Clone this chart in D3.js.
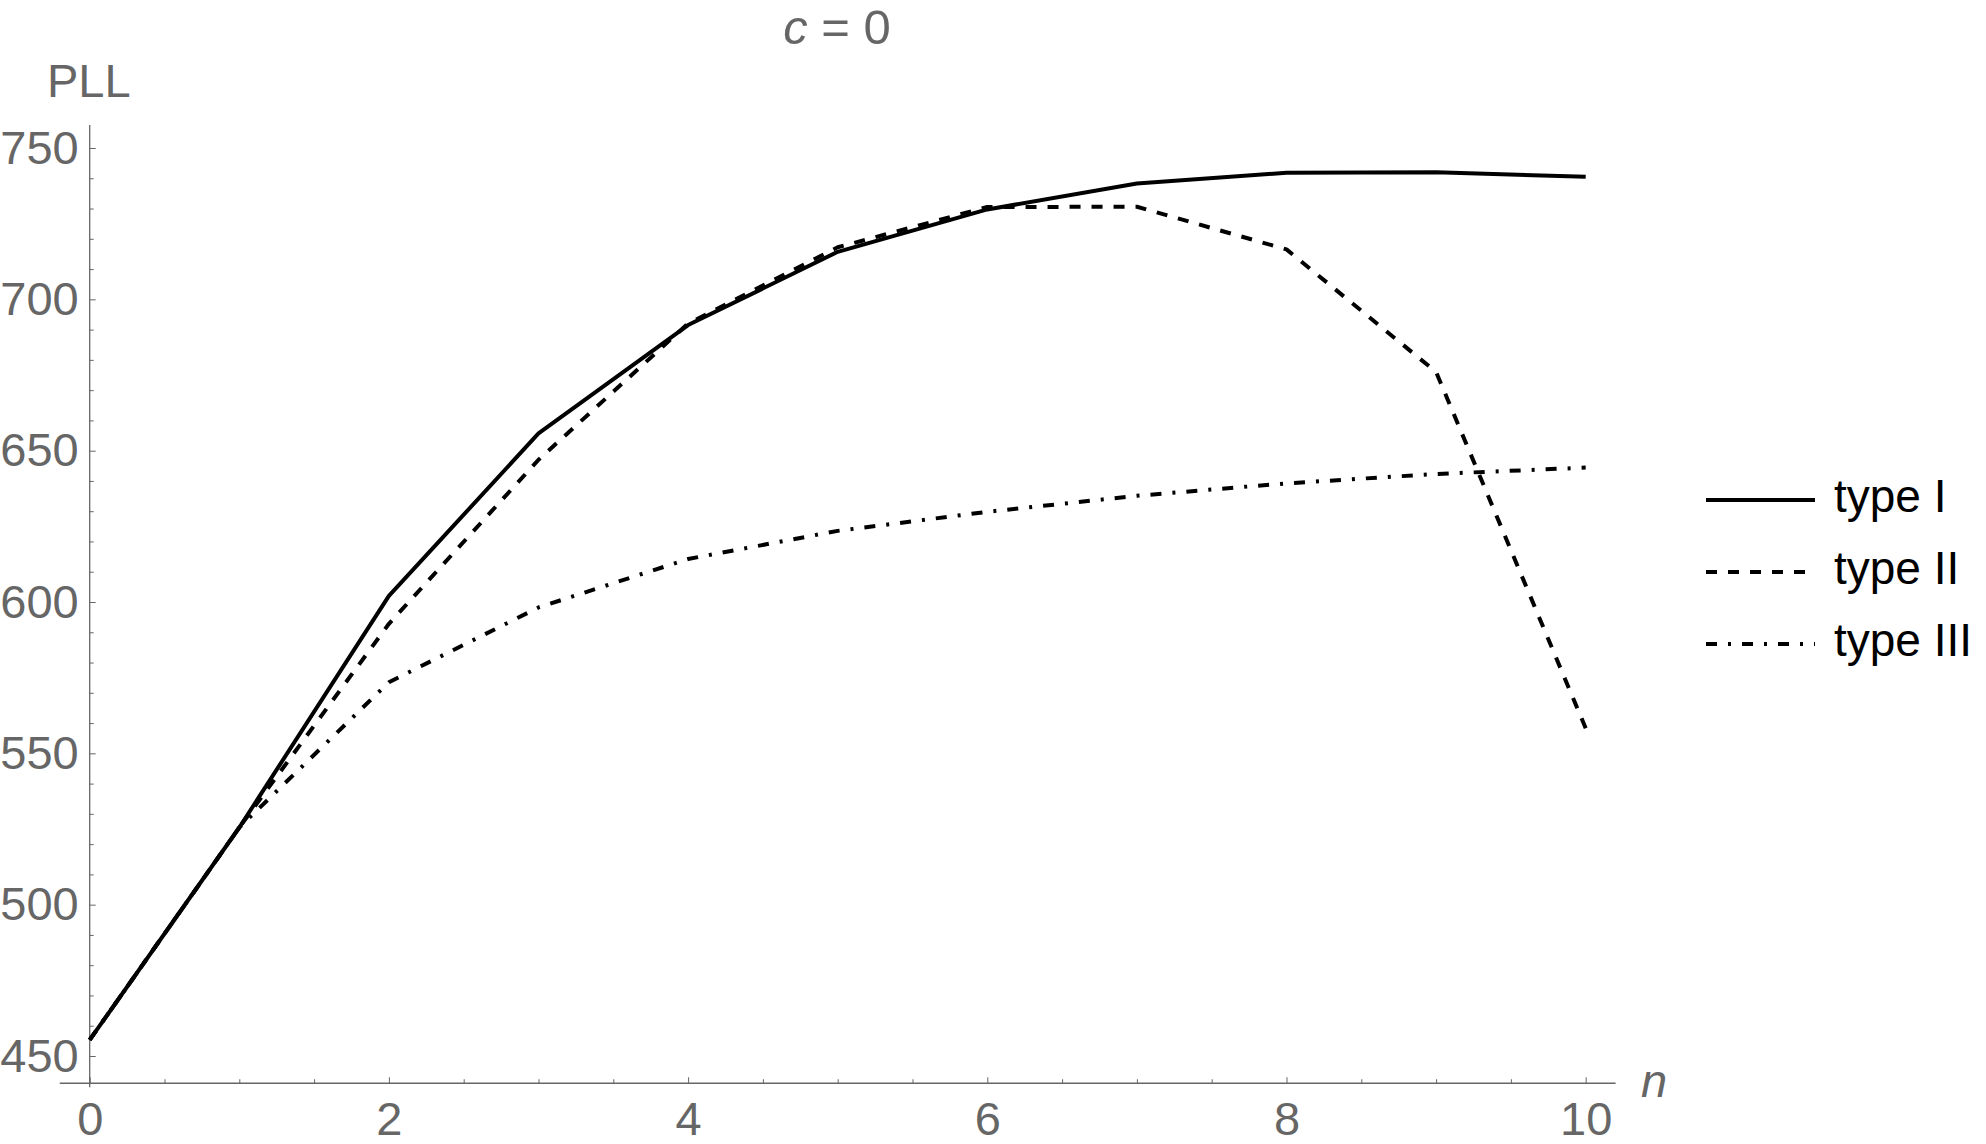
<!DOCTYPE html>
<html>
<head>
<meta charset="utf-8">
<script src="https://cdn.jsdelivr.net/npm/d3@7"></script>
<style>
  html, body { margin: 0; padding: 0; background: #fff; }
  svg { display: block; }
  text { font-family: "Liberation Sans", Arial, sans-serif; }
</style>
</head>
<body>
<svg id="chart" width="1986" height="1144"></svg>
<script>
// ---- data ----
const nValues = [0, 1, 2, 3, 4, 5, 6, 7, 8, 9, 10];
const typeI   = [455.3, 525.5, 602.0, 655.7, 691.5, 715.7, 729.7, 738.3, 741.8, 742.0, 740.5];
const typeII  = [455.3, 525.5, 592.8, 647.0, 692.0, 717.2, 730.5, 730.6, 716.5, 676.0, 558.3];
const typeIII = [455.3, 525.5, 573.5, 598.2, 614.2, 623.5, 629.8, 635.1, 639.2, 642.3, 644.4];
const seriesNames = ["type I", "type II", "type III"];
const xTickLabels = [0, 2, 4, 6, 8, 10];
const yTickLabels = [450, 500, 550, 600, 650, 700, 750];

// ---- layout ----
const svg = d3.select("#chart");
const gray = "#666666";
const fontSize = 47;

const x = d3.scaleLinear().domain([0, 10]).range([89.7, 1585.7]);
const y = d3.scaleLinear().domain([450, 750]).range([1056, 148]);
const xMin = -0.2, xMax = 10.2, yMin = 441, yMax = 757.6;

// axis lines
svg.append("line")
  .attr("x1", x(xMin)).attr("x2", x(xMax))
  .attr("y1", y(yMin)).attr("y2", y(yMin))
  .attr("stroke", gray).attr("stroke-width", 1.3);
svg.append("line")
  .attr("x1", x(0)).attr("x2", x(0))
  .attr("y1", y(yMax)).attr("y2", y(yMin) + 4)
  .attr("stroke", gray).attr("stroke-width", 1.3);

// y minor ticks
const yMinor = d3.range(450, 751, 10).filter(v => v % 50 !== 0);
svg.append("g").attr("transform", `translate(${x(0)},0)`)
  .call(d3.axisLeft(y).tickValues(yMinor).tickSize(-4).tickFormat(""))
  .call(g => g.select(".domain").remove())
  .call(g => g.selectAll("line").attr("stroke", gray));
// y major ticks + labels
svg.append("g").attr("transform", `translate(${x(0)},0)`)
  .call(d3.axisLeft(y).tickValues(yTickLabels).tickSize(-6).tickPadding(11).tickFormat(d3.format("d")))
  .call(g => g.select(".domain").remove())
  .call(g => g.selectAll("line").attr("stroke", gray))
  .call(g => g.selectAll("text").attr("fill", gray)
      .attr("font-size", fontSize).attr("font-family", "Liberation Sans, Arial, sans-serif"));

// x minor ticks
const xMinor = d3.range(0.5, 10.01, 0.5).filter(v => v % 2 !== 0);
svg.append("g").attr("transform", `translate(0,${y(yMin)})`)
  .call(d3.axisBottom(x).tickValues(xMinor).tickSize(-4).tickFormat(""))
  .call(g => g.select(".domain").remove())
  .call(g => g.selectAll("line").attr("stroke", gray));
// x major ticks + labels
svg.append("g").attr("transform", `translate(0,${y(yMin)})`)
  .call(d3.axisBottom(x).tickValues(xTickLabels).tickSize(-6).tickPadding(18).tickFormat(d3.format("d")))
  .call(g => g.select(".domain").remove())
  .call(g => g.selectAll("line").attr("stroke", gray))
  .call(g => g.selectAll("text").attr("fill", gray)
      .attr("font-size", fontSize).attr("font-family", "Liberation Sans, Arial, sans-serif"));

// axis labels and title
svg.append("text").attr("x", 47).attr("y", 97).attr("fill", gray)
  .attr("font-size", fontSize).text("PLL");
svg.append("text").attr("x", 1641).attr("y", 1097).attr("fill", gray)
  .attr("font-size", fontSize).attr("font-style", "italic").text("n");
const title = svg.append("text").attr("x", 837).attr("y", 44).attr("fill", gray)
  .attr("font-size", 49).attr("text-anchor", "middle");
title.append("tspan").attr("font-style", "italic").text("c");
title.append("tspan").text(" = 0");

// series
const styles = [
  { data: typeI,   dash: null },
  { data: typeII,  dash: "11,11" },
  { data: typeIII, dash: "11,11,3,11" }
];
const line = d3.line().x((d, i) => x(nValues[i])).y(d => y(d));
styles.forEach(s => {
  svg.append("path")
    .datum(s.data)
    .attr("d", line)
    .attr("fill", "none")
    .attr("stroke", "#000")
    .attr("stroke-width", 4)
    .attr("stroke-linejoin", "round")
    .attr("stroke-dasharray", s.dash);
});

// legend
const legendYs = [500, 572, 644];
seriesNames.forEach((name, i) => {
  svg.append("line")
    .attr("x1", 1706).attr("x2", 1815)
    .attr("y1", legendYs[i]).attr("y2", legendYs[i])
    .attr("stroke", "#000").attr("stroke-width", 4)
    .attr("stroke-dasharray", styles[i].dash);
  svg.append("text")
    .attr("x", 1834).attr("y", legendYs[i] + 12)
    .attr("fill", "#000").attr("font-size", 46)
    .text(name);
});
</script>
</body>
</html>
